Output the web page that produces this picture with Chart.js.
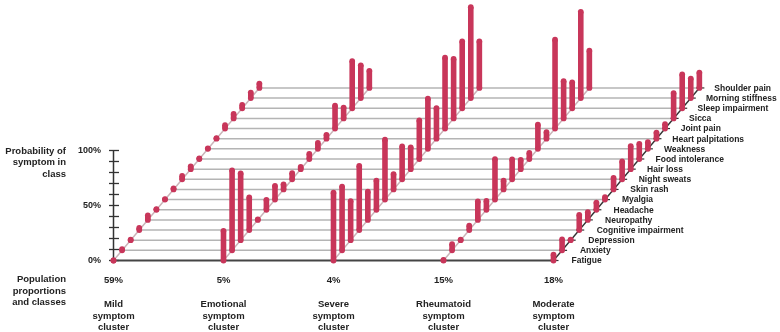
<!DOCTYPE html>
<html>
<head>
<meta charset="utf-8">
<title>Symptom clusters</title>
<script src="https://cdn.jsdelivr.net/npm/chart.js@4"></script>
<style>
  html, body { margin: 0; padding: 0; background: #fff; }
  canvas { display: block; }
</style>
</head>
<body>
<canvas id="chart" width="780" height="332"></canvas>
<script>
// symptom order runs up the slope, first one at the bottom
const symptoms = ["Fatigue","Anxiety","Depression","Cognitive impairment","Neuropathy","Headache","Myalgia","Skin rash","Night sweats","Hair loss","Food intolerance","Weakness","Heart palpitations","Joint pain","Sicca","Sleep impairment","Morning stiffness","Shoulder pain"];
const clusterNames = [["Mild","symptom","cluster"],["Emotional","symptom","cluster"],["Severe","symptom","cluster"],["Rheumatoid","symptom","cluster"],["Moderate","symptom","cluster"]];
const populationShares = ["59%","5%","4%","15%","18%"];

// probability of symptom in class, %
const mildCluster       = [0,1,0.5,2,4,0.5,0.5,1,3,2.5,0.5,0.5,0.5,3,4,3,5,4];
const emotionalCluster  = [27,72.7,60.7,29.7,0.5,9,12.5,4.7,5.6,2,4.7,5.3,3.5,20.8,9.8,42.9,29.8,15.6];
const severeCluster     = [61.6,58,35.6,58.3,25.6,26.5,54.4,14,29.8,19.8,35,45.6,27.7,64.4,54,60.7,82.6,42.3];
const rheumatoidCluster = [0.5,5.6,0.5,4,16.8,8,36.8,8,18,8.4,5.5,22,6,80.7,33.8,23.5,78.4,33.8];
const moderateCluster   = [5.3,10,0.5,13.8,7,6.5,2.3,10.4,16.2,21,13.8,6,5.6,4,23,30.7,17.7,14];

const yTickLabels = [0,50,100];
const yTickMarks = [0,10,20,30,40,50,60,70,80,90,100];

const clusters = [mildCluster, emotionalCluster, severeCluster, rheumatoidCluster, moderateCluster];
const CLUSTER_GAP = 110;   // x units between cluster origins
const SLOPE_X = 8.58;      // x shift per symptom row
const SLOPE_Y = 9.227;     // y shift per symptom row, in % units
const LAST = symptoms.length - 1;
const originX = c => c * CLUSTER_GAP;
const rowX = (c, i) => originX(c) + i * SLOPE_X;
const rowY = i => i * SLOPE_Y;

const BAR = "#c8365a", DIAGONAL = "#cbb3b8", GRID = "#b4b4b4", DARK = "#333", TEXT = "#222";
const FAMILY = "'Liberation Sans', Arial, sans-serif";

function seg(data, color, width, extra){
  return Object.assign({ data, borderColor: color, borderWidth: width, pointRadius: 0, clip: false, tension: 0 }, extra || {});
}

const datasets = [];

// bars come first so they paint on top
clusters.forEach((vals, c) => vals.forEach((v, i) => {
  datasets.push(seg([{x: rowX(c,i), y: rowY(i)}, {x: rowX(c,i), y: rowY(i) + v}], BAR, 5.6, {
    pointRadius: 2.9, pointBackgroundColor: BAR, pointBorderWidth: 0
  }));
}));

// dark slope of the last cluster with its small leaders
symptoms.forEach((s, i) => {
  datasets.push(seg([{x: rowX(4,i) - 3, y: rowY(i)}, {x: rowX(4,i) + 5, y: rowY(i)}], DARK, 1.2));
});
datasets.push(seg([{x: rowX(4,0), y: rowY(0)}, {x: rowX(4,LAST), y: rowY(LAST)}], DARK, 1.4));

// slopes of the other clusters
for(let c = 0; c < 4; c++){
  datasets.push(seg([{x: rowX(c,0), y: rowY(0)}, {x: rowX(c,LAST), y: rowY(LAST)}], DIAGONAL, 1.5));
}

// row lines, the bottom one is the dark base line
symptoms.forEach((s, i) => {
  datasets.push(seg([{x: rowX(0,i), y: rowY(i)}, {x: rowX(4,i), y: rowY(i)}], i === 0 ? "#444" : GRID, i === 0 ? 2 : 1.5));
});

// left axis
yTickMarks.forEach(t => {
  datasets.push(seg([{x: -4.5, y: t}, {x: 5.5, y: t}], DARK, 1.3));
});
datasets.push(seg([{x: 0, y: 0}, {x: 0, y: 100}], DARK, 1.5));

const textPlugin = {
  id: "textPlugin",
  afterDraw(chart){
    const ctx = chart.ctx, xs = chart.scales.x, ys = chart.scales.y;
    ctx.save();
    ctx.fillStyle = TEXT;
    ctx.textBaseline = "middle";
    ctx.textAlign = "left";
    ctx.font = "bold 8.5px " + FAMILY;
    symptoms.forEach((s, i) => {
      ctx.fillText(s, xs.getPixelForValue(originX(4) + 18 + i * 8.4), ys.getPixelForValue(rowY(i)) + 0.5);
    });
    ctx.textAlign = "right";
    ctx.font = "bold 9.5px " + FAMILY;
    [["Probability of",151],["symptom in",162.5],["class",174],["Population",279.5],["proportions",291],["and classes",302.5]].forEach(t => {
      ctx.fillText(t[0], 66, t[1]);
    });
    ctx.restore();
  }
};

// the layout would otherwise reserve room for half a label at the scale ends
function noPadding(scale){
  scale.paddingLeft = scale.paddingRight = scale.paddingTop = scale.paddingBottom = 0;
}

new Chart(document.getElementById("chart"), {
  type: "line",
  data: { datasets },
  plugins: [textPlugin],
  options: {
    responsive: false,
    animation: false,
    parsing: false,
    normalized: true,
    layout: { padding: 0, autoPadding: false },
    plugins: { legend: { display: false }, tooltip: { enabled: false } },
    scales: {
      x: {
        type: "linear",
        min: -9.5,
        max: 666.5,
        grid: { display: false, drawTicks: false },
        border: { display: false },
        afterFit(scale){ scale.height = 71.5; noPadding(scale); },
        afterBuildTicks(scale){ scale.ticks = clusters.map((v, c) => ({ value: originX(c) })); },
        ticks: {
          autoSkip: false,
          maxRotation: 0,
          padding: 14.5,
          color: TEXT,
          font: { family: FAMILY, size: 9.5, weight: "bold", lineHeight: 1.23 },
          callback(value){
            const c = Math.round(value / CLUSTER_GAP);
            return [populationShares[c], ""].concat(clusterNames[c]);
          }
        }
      },
      y: {
        type: "linear",
        min: 0,
        max: 236.8,
        grid: { display: false, drawTicks: false },
        border: { display: false },
        afterFit(scale){ scale.width = 104; noPadding(scale); },
        afterBuildTicks(scale){ scale.ticks = yTickLabels.map(v => ({ value: v })); },
        ticks: {
          padding: 3,
          color: TEXT,
          font: { family: FAMILY, size: 9, weight: "bold" },
          callback(value){ return value + "%"; }
        }
      }
    }
  }
});
</script>
</body>
</html>
